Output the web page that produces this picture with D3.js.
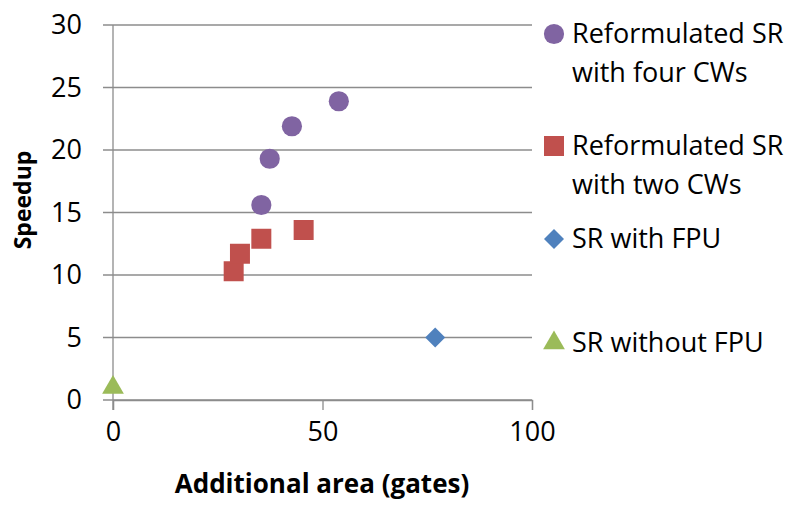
<html>
<head>
<script src="https://cdn.jsdelivr.net/npm/d3@7"></script>
<style>
  body { margin:0; background:#fff; }
  svg { font-family: "Open Sans", "Liberation Sans", sans-serif; }
</style>
</head>
<body>
<svg id="svg" width="794" height="506"></svg>
<script>
// chart data
const fourCW = [[35.4, 15.6], [37.4, 19.3], [42.7, 21.9], [53.9, 23.9]];
const twoCW = [[28.8, 10.3], [30.3, 11.7], [35.4, 12.9], [45.5, 13.6]];
const withFPU = [[76.9, 5.0]];
const withoutFPU = [[0, 1.0]];
const seriesNames = [["Reformulated SR", "with four CWs"], ["Reformulated SR", "with two CWs"], ["SR with FPU"], ["SR without FPU"]];
const xTicks = [0, 50, 100];
const yTicks = [0, 5, 10, 15, 20, 25, 30];

const colors = ["#8064A2", "#C0504D", "#4F81BD", "#9BBB59"];
const shapes = [d3.symbolCircle, d3.symbolSquare, d3.symbolSquare, d3.symbolTriangle];
const sizes = [320, 400, 200, 205];
const rotations = [0, 0, 45, 0];
const allSeries = [fourCW, twoCW, withFPU, withoutFPU];

const margins = { left: 113, right: 262, top: 25, bottom: 106 };
const dims = { width: 794, height: 506 };

let xScale = d3.scaleLinear().domain([0, 100]).range([margins.left, dims.width - margins.right]);
let yScale = d3.scaleLinear().domain([0, 30]).range([dims.height - margins.bottom, margins.top]);

let mySvg = d3.select('#svg');

// horizontal gridlines (extend left as tick marks)
mySvg.append("g").selectAll("line").data(yTicks).enter().append("line")
  .attr("x1", margins.left - 10).attr("x2", xScale(100))
  .attr("y1", d => yScale(d)).attr("y2", d => yScale(d))
  .attr("stroke", "#8c8c8c").attr("stroke-width", 1.3);

// y axis line
mySvg.append("line")
  .attr("x1", xScale(0)).attr("x2", xScale(0))
  .attr("y1", yScale(30)).attr("y2", yScale(0) + 10)
  .attr("stroke", "#8c8c8c").attr("stroke-width", 1.3);

// x axis
let xAxis = d3.axisBottom(xScale).tickValues(xTicks).tickSize(10).tickPadding(12).tickFormat(d3.format("d"));
let gx = mySvg.append("g")
  .attr("transform", `translate(0, ${yScale(0)})`)
  .call(xAxis);
gx.select(".domain").attr("stroke", "#8c8c8c").attr("stroke-width", 1.3);
gx.selectAll(".tick line").attr("stroke", "#8c8c8c").attr("stroke-width", 1.3);
gx.selectAll("text").attr("font-size", 27).attr("fill", "#000").attr("font-family", "Open Sans");

// y axis labels
let yAxis = d3.axisLeft(yScale).tickValues(yTicks).tickSize(0).tickPadding(31);
let gy = mySvg.append("g").attr("transform", `translate(${xScale(0)}, 0)`).call(yAxis);
gy.select(".domain").remove();
gy.selectAll("text").attr("font-size", 27).attr("fill", "#000").attr("font-family", "Open Sans");

// axis titles
mySvg.append("text")
  .attr("x", 322).attr("y", 493)
  .attr("text-anchor", "middle")
  .attr("font-size", 26).attr("font-weight", "bold")
  .text("Additional area (gates)");
mySvg.append("text")
  .attr("transform", `translate(31, 200) rotate(-90)`)
  .attr("text-anchor", "middle")
  .attr("font-size", 23).attr("font-weight", "bold")
  .text("Speedup");

// points
allSeries.forEach((s, i) => {
  mySvg.append("g").selectAll("path").data(s).enter().append("path")
    .attr("d", d3.symbol().type(shapes[i]).size(sizes[i]))
    .attr("transform", d => `translate(${xScale(d[0])}, ${yScale(d[1])}) rotate(${rotations[i]})`)
    .attr("fill", colors[i]);
});

// legend
const legendY = [34, 146, 239, 343];
seriesNames.forEach((lines, i) => {
  let g = mySvg.append("g").attr("transform", `translate(554, ${legendY[i]})`);
  g.append("path")
    .attr("d", d3.symbol().type(shapes[i]).size(sizes[i]))
    .attr("transform", `rotate(${rotations[i]})`)
    .attr("fill", colors[i]);
  lines.forEach((t, j) => {
    g.append("text")
      .attr("x", 18).attr("y", j * 39)
      .attr("dy", "0.35em")
      .attr("font-size", 27)
      .text(t);
  });
});
</script>
</body>
</html>
